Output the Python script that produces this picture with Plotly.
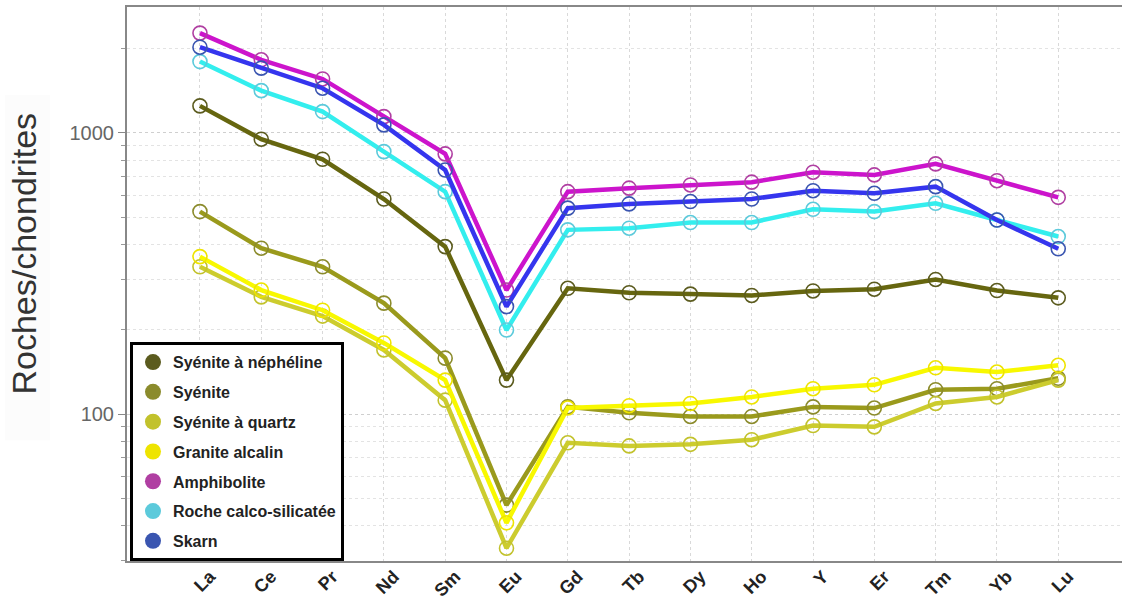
import plotly.graph_objects as go

# %% Data: REE normalised to chondrites
elements = ['La', 'Ce', 'Pr', 'Nd', 'Sm', 'Eu', 'Gd', 'Tb', 'Dy', 'Ho', 'Y', 'Er', 'Tm', 'Yb', 'Lu']

syenite_nepheline = [1248, 950, 806, 582, 394, 132, 280, 270, 267, 264, 274, 278, 301, 275, 259]
syenite = [525, 389, 334, 248, 158, 47.4, 106, 101, 98, 98, 106, 105, 122, 123, 134]
syenite_quartz = [334, 261, 223, 169, 112, 33.3, 79, 77, 78, 81, 91, 90, 109, 115, 132]
granite_alcalin = [363, 276, 234, 179, 132, 41, 105, 107, 109, 115, 123, 127, 146, 141, 149]
amphibolite = [2265, 1820, 1556, 1143, 842, 276, 618, 636, 653, 668, 725, 709, 776, 676, 590]
roche_calco = [1794, 1414, 1191, 858, 618, 199, 452, 458, 480, 480, 535, 525, 562, 490, 428]
skarn = [2018, 1700, 1442, 1068, 738, 241, 540, 559, 570, 582, 623, 610, 644, 490, 387]

# name, values, line colour, marker/legend colour
series = [
    ('Syénite à néphéline', syenite_nepheline, '#66660f', '#5b5b1e'),
    ('Syénite', syenite, '#9a9a1c', '#8b8b2c'),
    ('Syénite à quartz', syenite_quartz, '#cccc2e', '#c2c22c'),
    ('Granite alcalin', granite_alcalin, '#f8f800', '#eee400'),
    ('Amphibolite', amphibolite, '#cc14cc', '#b03fa2'),
    ('Roche calco-silicatée', roche_calco, '#33eeee', '#5ccadb'),
    ('Skarn', skarn, '#3535ee', '#3a55b0'),
]

fig = go.Figure()

# %% Lines with open circle markers
for name, values, line_color, mark_color in series:
    fig.add_trace(go.Scatter(x = elements,
                             y = values,
                             mode = 'lines+markers',
                             line = dict(color = line_color, width = 4.5),
                             marker = dict(symbol = 'circle-open', size = 14,
                                           color = mark_color,
                                           line = dict(width = 1.6, color = mark_color)),
                             showlegend = False,
                             hoverinfo = 'skip'))

# %% Legend-only entries (filled dots)
for i, (name, values, line_color, mark_color) in enumerate(series):
    fig.add_trace(go.Scatter(x = [None],
                             y = [None],
                             mode = 'markers',
                             marker = dict(symbol = 'circle', size = 16, color = mark_color),
                             name = name,
                             legendgroup = 'g{}'.format(i)))

fig.update_layout(template = 'simple_white',
                  width = 1122,
                  height = 607,
                  margin = dict(l = 127, r = 0, t = 7, b = 46),
                  paper_bgcolor = 'white',
                  plot_bgcolor = 'white',
                  font_family = 'Liberation Sans',
                  legend = dict(x = 0.003, y = 0.395, xanchor = 'left', yanchor = 'top',
                                bgcolor = 'white', bordercolor = 'black', borderwidth = 3,
                                font = dict(family = 'Liberation Sans', size = 16, color = '#222222',
                                            weight = 'bold'),
                                tracegroupgap = 6,
                                itemclick = False))

# light box behind the axis title
fig.add_shape(type = 'rect', xref = 'paper', yref = 'paper',
              x0 = -0.1226, x1 = -0.0774, y0 = 0.218, y1 = 0.841,
              fillcolor = '#f6f6f6', line_width = 0, layer = 'below')

fig.add_annotation(text = 'Roches/chondrites', textangle = -90,
                   xref = 'paper', yref = 'paper', x = -0.1035, y = 0.555,
                   xanchor = 'center', yanchor = 'middle',
                   showarrow = False,
                   font = dict(family = 'Liberation Sans', size = 34, color = '#333333'))

fig.update_xaxes(type = 'category',
                 range = [-1.19, 15.04],
                 automargin = False,
                 showline = True, linecolor = '#888888', linewidth = 2,
                 mirror = True,
                 ticks = '',
                 tickangle = -45,
                 ticklabelshift = 10,
                 ticklabelstandoff = -4,
                 tickfont = dict(family = 'Liberation Sans', size = 18, color = '#222222', weight = 'bold'),
                 showgrid = True, gridcolor = '#d9d9d9', griddash = 'dot', gridwidth = 1)

fig.update_yaxes(type = 'log',
                 range = [1.477, 3.448],
                 automargin = False,
                 showline = True, linecolor = '#888888', linewidth = 2,
                 tickvals = [100, 1000],
                 ticks = 'outside', ticklen = 7, tickcolor = '#888888',
                 tickfont = dict(family = 'Liberation Sans', size = 20, color = '#666666'),
                 showgrid = True, gridcolor = '#cfcfcf', griddash = 'dot', gridwidth = 1,
                 minor = dict(dtick = 'D1', ticks = 'outside', ticklen = 4, tickcolor = '#999999',
                              showgrid = True, gridcolor = '#e3e3e3', griddash = 'dot'))

# page body has an 8px default margin; drop it so the figure sits at 0,0
fig.write_html('out.html', config = {'displayModeBar': False},
               post_script = "document.body.style.margin = '0';")
